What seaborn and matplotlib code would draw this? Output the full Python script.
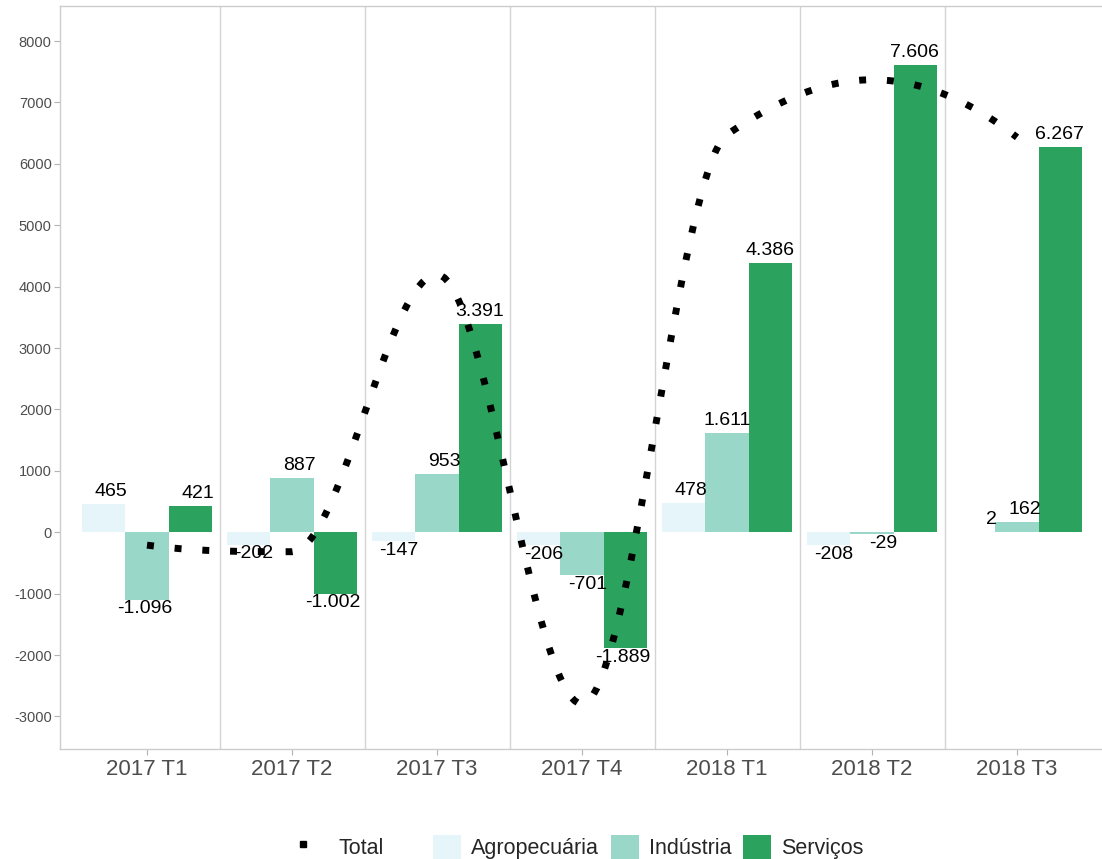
import numpy as np
import pandas as pd
import matplotlib
matplotlib.use('Agg')
import matplotlib.pyplot as plt
from matplotlib.lines import Line2D
from matplotlib.patches import Patch
import seaborn as sns

# --- DADOS ---
trimestres = ['2017 T1', '2017 T2', '2017 T3', '2017 T4', '2018 T1', '2018 T2', '2018 T3']
agropecuaria = [465, -202, -147, -206, 478, -208, 2]
industria = [-1096, 887, 953, -701, 1611, -29, 162]
servicos = [421, -1002, 3391, -1889, 4386, 7606, 6267]
total = [-210, -317, 4197, -2796, 6475, 7369, 6431]

setores = ['Agropecuária', 'Indústria', 'Serviços']
cores = {'Agropecuária': '#e5f5f9', 'Indústria': '#99d8c9', 'Serviços': '#2ca25f'}

df = pd.DataFrame({
    'trimestre': trimestres * 3,
    'setor': [s for s in setores for _ in trimestres],
    'valor': agropecuaria + industria + servicos,
})

# --- ESTILO ---
sns.set_theme(style='white')
plt.rcParams['font.family'] = ['Liberation Sans', 'DejaVu Sans']
plt.rcParams['axes.unicode_minus'] = False

fig = plt.figure(figsize=(11.02, 8.59), dpi=100)
ax = fig.add_axes([60 / 1102, 110 / 859, 1044 / 1102, 743 / 859])

sns.barplot(data=df, x='trimestre', y='valor', hue='setor', order=trimestres,
            hue_order=setores, palette=cores, width=0.9, saturation=1,
            linewidth=0, legend=False, ax=ax)

# rótulos das barras (formato brasileiro)
for cont in ax.containers:
    for barra in cont:
        val = barra.get_height() if barra.get_y() == 0 else barra.get_y()
        val = int(round(val))
        txt = f"{val:,}".replace(',', '.')
        x = barra.get_x() + barra.get_width()
        if val >= 0:
            ax.annotate(txt, (x, val), xytext=(1.5, 3), textcoords='offset points',
                        ha='right', va='bottom', fontsize=14, color='black')
        else:
            ax.annotate(txt, (x, val), xytext=(2.5, -0.5), textcoords='offset points',
                        ha='right', va='top', fontsize=14, color='black')

# linha do total suavizada (interpolação cúbica monótona)
def suavizar(ys, n=40):
    ys = np.asarray(ys, dtype=float)
    d = np.diff(ys)
    m = np.zeros_like(ys)
    for k in range(1, len(ys) - 1):
        if d[k - 1] * d[k] > 0:
            m[k] = 2.0 / (1.0 / d[k - 1] + 1.0 / d[k])

    def ponta(d0, d1):
        mm = (3 * d0 - d1) / 2
        if np.sign(mm) != np.sign(d0):
            return 0.0
        if np.sign(d0) != np.sign(d1) and abs(mm) > 3 * abs(d0):
            return 3 * d0
        return mm

    m[0] = ponta(d[0], d[1])
    m[-1] = ponta(d[-1], d[-2])
    t = np.linspace(0, 1, n)
    xs_out, ys_out = [], []
    for k in range(len(ys) - 1):
        h00 = 2 * t ** 3 - 3 * t ** 2 + 1
        h10 = t ** 3 - 2 * t ** 2 + t
        h01 = -2 * t ** 3 + 3 * t ** 2
        h11 = t ** 3 - t ** 2
        seg = h00 * ys[k] + h10 * m[k] + h01 * ys[k + 1] + h11 * m[k + 1]
        sl = slice(0, None) if k == 0 else slice(1, None)
        xs_out.append((k + t)[sl])
        ys_out.append(seg[sl])
    return np.concatenate(xs_out), np.concatenate(ys_out)

cx, cy = suavizar(total)
ax.plot(cx, cy, color='black', linewidth=5, linestyle=(0, (1, 3)),
        dash_capstyle='butt', zorder=5)

# separadores entre trimestres
for xb in np.arange(0.5, len(trimestres) - 0.5, 1):
    ax.axvline(xb, color='#d4d4d4', linewidth=1, zorder=0)

ax.set_xlim(-0.6, 6.6)
ax.set_ylim(-3530, 8570)
ax.set_yticks(range(-3000, 8001, 1000))
ax.set_xlabel('')
ax.set_ylabel('')

for lado in ['left', 'top', 'bottom', 'right']:
    ax.spines[lado].set_color('#cccccc')
    ax.spines[lado].set_linewidth(1)

ax.tick_params(axis='y', labelsize=10.5, labelcolor='#4d4d4d', color='#b3b3b3',
               length=4, width=0.8, left=True, pad=2)
ax.tick_params(axis='x', labelsize=16, labelcolor='#4d4d4d', color='#b3b3b3',
               length=4, width=0.8, bottom=True, pad=3)

# legendas
h_total = [Line2D([], [], linestyle='none', marker='s', markersize=5, color='black')]
leg1 = fig.legend(h_total, ['Total'], loc='center right',
                  bbox_to_anchor=(384 / 1102, 12 / 859), frameon=False, fontsize=15.5,
                  handlelength=1.3, handleheight=1.4, handletextpad=1.0,
                  borderpad=0, borderaxespad=0)
h_setores = [Patch(facecolor=cores[s], edgecolor='none') for s in setores]
leg2 = fig.legend(h_setores, setores, loc='center left', ncol=3,
                  bbox_to_anchor=(433 / 1102, 12 / 859), frameon=False, fontsize=15.5,
                  handlelength=1.3, handleheight=1.4, handletextpad=0.47,
                  columnspacing=0.55, borderpad=0, borderaxespad=0)

fig.savefig('out.png', dpi=100)
